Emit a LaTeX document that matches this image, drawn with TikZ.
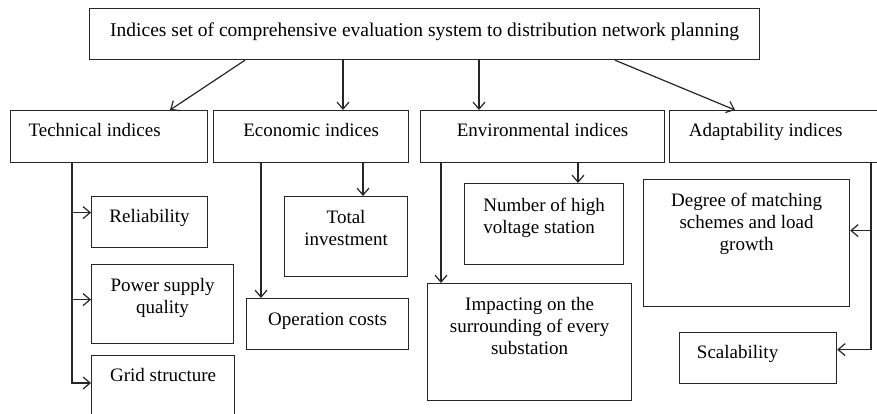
\documentclass[tikz,border=0pt]{standalone}
\usepackage{fontspec}
\setmainfont{Liberation Serif}
\usepackage{tikz}
\usetikzlibrary{positioning, arrows.meta}

\begin{document}
\begin{tikzpicture}[x=1pt, y=-1pt,
        box/.style 2 args={draw=black!85, line width=1.2pt, anchor=north west, inner sep=0pt,
                minimum width=#1pt, minimum height=#2pt},
        txt/.style={inner sep=0pt, align=center, font=\fontsize{19pt}{22pt}\selectfont},
        arr/.style={draw=black!85, line width=1.2pt, -{Straight Barb[length=7pt, width=12pt, line width=1.2pt]}}]
    \useasboundingbox (0,0) rectangle (877,414);

    % boxes
    \node[box={670}{51}] (top) at (89,8) {};
    \node[box={197}{52}] (tech) at (10,110) {};
    \node[box={195}{52}] (econ) at (213,110) {};
    \node[box={244}{52}] (env) at (420,110) {};
    \node[box={230}{52}] (adapt) at (669,110) {};
    \node[box={116}{51}] (rel) at (91,196) {};
    \node[box={142}{79}] (psq) at (91,264) {};
    \node[box={143}{80}] (grid) at (91,355) {};
    \node[box={123}{80}] (tinv) at (284,196) {};
    \node[box={162}{51}] (opc) at (246,298) {};
    \node[box={159}{81}] (nhv) at (464,183) {};
    \node[box={204}{117}] (imp) at (427,283) {};
    \node[box={206}{127}] (deg) at (643,179) {};
    \node[box={157}{51}] (scal) at (679,332) {};

    % texts
    \node[txt, below=15pt of top.north, font=\fontsize{19.5pt}{22pt}\selectfont] (toptx) {Indices set of comprehensive evaluation system to distribution network planning};
    \node[txt, below=13pt of tech.north, xshift=-14.5pt] (techtx) {Technical indices};
    \node[txt, below=13pt of econ.north] (econtx) {Economic indices};
    \node[txt, below=13pt of env.north] (envtx) {Environmental indices};
    \node[txt, below=13pt of adapt.north, xshift=-19pt] (adapttx) {Adaptability indices};
    \node[txt, below=13pt of rel.north] (reltx) {Reliability};
    \node[txt, below=14pt of psq.north] (psqtx) {Power supply\\quality};
    \node[txt, below=13pt of grid.north] (gridtx) {Grid structure};
    \node[txt, below=14pt of tinv.north] (tinvtx) {Total\\investment};
    \node[txt, below=15pt of opc.north] (opctx) {Operation costs};
    \node[txt, align=left, below=15pt of nhv.north] (nhvtx) {Number of high\\voltage station};
    \node[txt, below=14pt of imp.north] (imptx) {Impacting on the\\surrounding of every\\substation};
    \node[txt, below=14pt of deg.north] (degtx) {Degree of matching\\schemes and load\\growth};
    \node[txt, below=13pt of scal.north, xshift=-20.5pt] (scaltx) {Scalability};

    % top level
    \draw[arr] ([xshift=156pt]top.south west) -- ([xshift=160pt]tech.north west);
    \draw[arr] ([xshift=254pt]top.south west) -- ([xshift=130pt]econ.north west);
    \draw[arr] ([xshift=390pt]top.south west) -- ([xshift=59pt]env.north west);
    \draw[arr] ([xshift=526pt]top.south west) -- ([xshift=66pt]adapt.north west);

    % technical
    \coordinate (tl) at ([xshift=62pt]tech.south west);
    \coordinate (relin) at ([yshift=9.5pt]rel.west);
    \coordinate (psqin) at ([yshift=4.5pt]psq.west);
    \coordinate (gridin) at ([yshift=-28pt]grid.north west);
    \draw[arr] (tl) |- (gridin);
    \draw[arr] (tl |- relin) -- (relin);
    \draw[arr] (tl |- psqin) -- (psqin);

    % economic
    \draw[arr] ([xshift=48pt]econ.south west) -- ([xshift=15pt]opc.north west);
    \draw[arr] ([xshift=150pt]econ.south west) -- ([xshift=79pt]tinv.north west);

    % environmental
    \draw[arr] ([xshift=21pt]env.south west) -- ([xshift=14pt]imp.north west);
    \draw[arr] ([xshift=158pt]env.south west) -- ([xshift=114pt]nhv.north west);

    % adaptability
    \coordinate (ar) at ([xshift=202pt]adapt.south west);
    \coordinate (degin) at ([yshift=12.5pt]deg.east);
    \coordinate (scalin) at ([yshift=8.5pt]scal.east);
    \draw[arr] (ar) |- (scalin);
    \draw[arr] (ar |- degin) -- (degin);
\end{tikzpicture}
\end{document}
